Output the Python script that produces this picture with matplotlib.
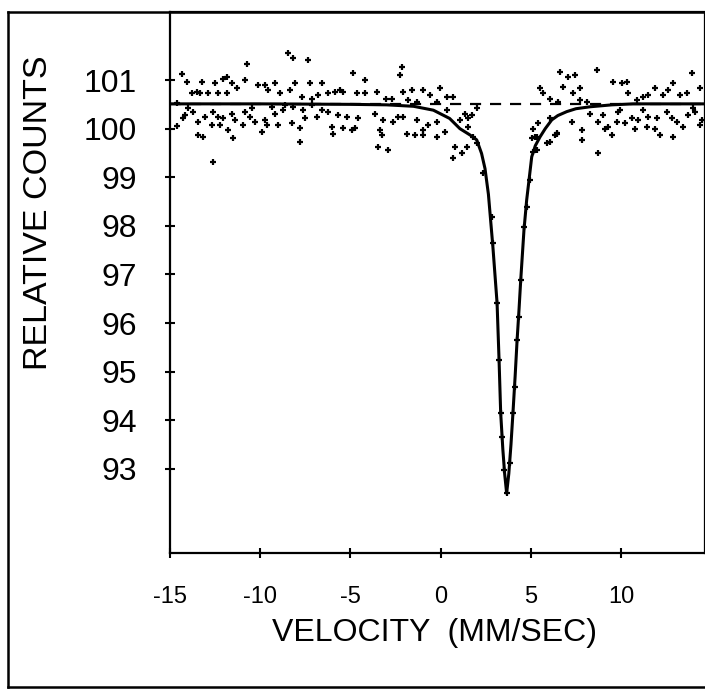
import matplotlib
matplotlib.use('Agg')
import matplotlib.pyplot as plt
from matplotlib import font_manager
from matplotlib.lines import Line2D

# measured points (velocity mm/s, relative counts)
vel_pts = [
    # -15 .. -5.5, above baseline
    -14.36, -14.08, -13.80, -13.52, -13.25, -13.34, -12.88, -12.51, -12.32, -12.05,
    -11.86, -11.86, -11.58, -11.31, -10.85, -10.75, -10.11, -9.74, -9.55, -9.18,
    -8.90, -8.44, -8.35, -8.17, -8.07, -7.70, -7.33, -7.24, -7.15, -6.78,
    -6.60, -6.23, -5.86, -5.58,
    # -15 .. -5.5, below baseline
    -14.63, -14.61, -14.26, -14.17, -13.99, -13.71, -13.43, -13.43, -13.16, -13.06,
    -12.69, -12.60, -12.32, -12.23, -12.05, -11.77, -11.58, -11.49, -11.40, -10.94,
    -10.85, -10.57, -10.48, -10.29, -9.92, -9.74, -9.64, -9.37, -9.18, -9.00,
    -8.72, -8.63, -8.26, -8.17, -7.80, -7.80, -7.61, -7.52, -7.15, -6.87,
    -6.60, -6.23, -6.04, -5.95, -5.67, -12.60,
    # -5.5 .. 2.5
    -4.84, -5.40, -4.19, -4.66, -4.19, -3.55, -3.01, -2.72, -2.25, -2.16,
    -2.07, -1.79, -1.61, -1.33, -0.96, -0.59, -0.22, -0.04, 0.33, 0.70,
    -5.21, -4.56, -4.93, -4.75, -5.40, -3.64, -3.18, -3.36, -3.27, -2.62,
    -2.35, -2.07, -1.89, -1.33, -1.42, -0.96, -0.68, -0.96, -0.22, -0.22,
    0.24, 0.33, -3.46, -2.90, 0.79, 0.70, 1.16, 1.44, 1.07, 1.35,
    1.53, 1.72, 1.99, 1.53, 1.81,
    # dip
    2.00, 2.35, 2.83, 2.88, 3.13, 3.24, 3.33, 3.40, 3.51, 3.66,
    3.86, 4.01, 4.10, 4.24, 4.33, 4.44, 4.65, 4.77, 4.96, 5.32,
    # 5 .. 14.6, above baseline
    6.62, 7.08, 7.45, 6.80, 7.36, 7.73, 8.65, 9.57, 10.04, 10.31,
    10.41, 10.87, 11.24, 5.51, 5.69, 6.06, 6.52, 7.73, 8.10, 11.88,
    12.35, 12.90, 13.27, 13.64, 13.92, 14.38, 12.62, 11.51,
    # 5 .. 14.6, below baseline
    5.05, 5.12, 5.34, 6.06, 6.45, 5.14, 5.23, 5.42, 5.88, 6.06,
    6.34, 6.43, 7.26, 7.82, 8.28, 8.74, 9.02, 9.11, 9.30, 9.48,
    9.76, 9.85, 10.22, 10.59, 10.78, 10.96, 11.24, 11.42, 11.51, 11.88,
    11.98, 12.16, 12.53, 12.81, 13.09, 13.45, 13.73, 14.01, 14.10, 14.47,
    7.82, 8.74, 9.94, 12.90, 14.38,
]
cnt_pts = [
    101.12, 100.97, 100.73, 100.76, 100.97, 100.73, 100.74, 100.93, 100.73, 101.03,
    101.07, 100.73, 100.93, 100.83, 101.00, 101.33, 100.90, 100.90, 100.79, 100.93,
    100.73, 101.55, 100.79, 101.45, 100.93, 100.66, 101.41, 100.93, 100.62, 100.69,
    100.93, 100.73, 100.76, 100.79,
    100.53, 100.05, 100.21, 100.28, 100.42, 100.35, 100.14, 99.87, 99.83, 100.25,
    100.07, 100.35, 100.25, 100.07, 100.21, 99.97, 100.31, 99.80, 100.18, 100.07,
    100.35, 100.25, 100.42, 100.14, 99.94, 100.18, 100.07, 100.45, 100.31, 100.07,
    100.38, 100.49, 100.11, 100.45, 100.01, 99.73, 100.38, 100.21, 100.49, 100.25,
    100.38, 100.35, 100.04, 99.90, 100.28, 99.32,
    101.14, 100.76, 101.00, 100.73, 100.73, 100.76, 100.62, 100.62, 101.10, 101.27,
    100.76, 100.59, 100.79, 100.55, 100.79, 100.69, 100.55, 100.83, 100.66, 100.66,
    100.25, 100.21, 99.97, 100.01, 100.01, 100.31, 100.18, 99.97, 99.87, 100.14,
    100.25, 100.25, 99.90, 100.18, 99.87, 99.97, 100.07, 99.87, 100.14, 99.83,
    99.94, 100.38, 99.63, 99.56, 99.63, 99.39, 99.49, 99.63, 100.18, 100.31,
    100.21, 100.28, 100.42, 100.04, 99.83,
    99.70, 99.09, 98.19, 97.65, 96.41, 95.24, 94.15, 93.65, 92.98, 92.50,
    93.12, 94.15, 94.69, 95.65, 96.13, 96.88, 97.98, 98.39, 98.94, 99.56,
    101.17, 101.07, 101.10, 100.86, 100.73, 100.83, 101.21, 100.97, 100.93, 100.97,
    100.73, 100.59, 100.66, 100.83, 100.73, 100.62, 100.55, 100.59, 100.55, 100.83,
    100.69, 100.93, 100.69, 100.73, 101.14, 100.83, 100.79, 100.69,
    99.81, 99.52, 99.83, 100.22, 99.91, 100.00, 99.83, 100.11, 99.70, 99.73,
    99.87, 99.90, 100.14, 99.97, 100.31, 100.14, 100.28, 100.00, 100.04, 99.87,
    100.14, 100.35, 100.11, 100.21, 100.00, 100.18, 100.38, 100.04, 100.25, 100.00,
    100.21, 99.87, 100.35, 100.21, 100.14, 100.04, 100.28, 100.42, 100.35, 100.18,
    99.77, 99.49, 100.38, 99.83, 100.07,
]

# fitted curve
fit_vel = [-15.0, -10.0, -5.0, -3.0, -1.5, -0.4, 0.5, 1.07, 1.63, 2.0,
           2.27, 2.46, 2.65, 2.9, 3.13, 3.24, 3.33, 3.45, 3.55, 3.66,
           3.78, 3.9, 4.01, 4.13, 4.24, 4.35, 4.44, 4.62, 4.77, 4.90,
           5.05, 5.25, 5.51, 5.8, 6.16, 6.5, 6.99, 7.5, 8.28, 9.5,
           10.67, 14.6]
fit_cnt = [100.51, 100.51, 100.50, 100.49, 100.46, 100.38, 100.21, 100.00, 99.87, 99.77,
           99.49, 99.18, 98.65, 97.56, 96.41, 95.24, 94.15, 93.40, 92.90, 92.50,
           92.90, 93.50, 94.15, 94.90, 95.65, 96.30, 96.88, 97.91, 98.53, 98.94,
           99.42, 99.65, 99.83, 100.00, 100.18, 100.27, 100.35, 100.41, 100.45, 100.49,
           100.51, 100.51]
baseline = 100.51

y_ticks = [93, 94, 95, 96, 97, 98, 99, 100, 101]
x_ticks = [-15, -10, -5, 0, 5, 10]
x_ticklabels = ['-15', '-10', '-5', '0', '5', '10']

names = {f.name for f in font_manager.fontManager.ttflist}
main_font = 'Liberation Sans' if 'Liberation Sans' in names else 'DejaVu Sans'
narrow_font = 'Liberation Sans Narrow' if 'Liberation Sans Narrow' in names else main_font

W, H = 705, 694
fig = plt.figure(figsize=(W / 100, H / 100), dpi=100)
ax = fig.add_axes([170 / W, (H - 553) / H, 534 / W, 541 / H])

ax.plot([-15, 14.6], [baseline, baseline], color='black', lw=1.6, ls=(0, (5, 4)))
ax.plot(fit_vel, fit_cnt, color='black', lw=2.2, solid_joinstyle='round')
ax.plot(vel_pts, cnt_pts, ls='none', marker='+', ms=5, mew=1.6, color='black')

ax.set_xlim(-15, 14.6)
ax.set_ylim(91.27, 102.4)
ax.set_xticks(x_ticks)
ax.set_xticklabels(x_ticklabels, fontsize=17, family=main_font)
ax.set_yticks(y_ticks)
ax.set_yticklabels([str(t) for t in y_ticks], fontsize=23, family=main_font)
ax.tick_params(axis='x', direction='inout', length=7, width=1.5, pad=20)
ax.tick_params(axis='y', direction='inout', length=7, width=1.5, pad=20)
for s in ['left', 'bottom', 'top']:
    ax.spines[s].set_linewidth(1.6)
ax.spines['right'].set_linewidth(0.9)

fig.text(434 / W, 1 - 633 / H, 'VELOCITY  (MM/SEC)', ha='center', va='center',
         fontsize=23, family=narrow_font)
fig.text(39 / W, 1 - 213 / H, 'RELATIVE COUNTS', ha='center', va='center',
         rotation=90, fontsize=24.5, family=main_font)

# outer frame of the original figure
fig.add_artist(Line2D([8 / W, 8 / W], [1 - 687 / H, 1 - 12 / H], transform=fig.transFigure,
                      color='black', lw=1.8))
fig.add_artist(Line2D([8 / W, 1.0], [1 - 12 / H, 1 - 12 / H], transform=fig.transFigure,
                      color='black', lw=1.8))
fig.add_artist(Line2D([8 / W, 1.0], [1 - 687 / H, 1 - 687 / H], transform=fig.transFigure,
                      color='black', lw=1.8))

fig.savefig('out.png', dpi=100)
